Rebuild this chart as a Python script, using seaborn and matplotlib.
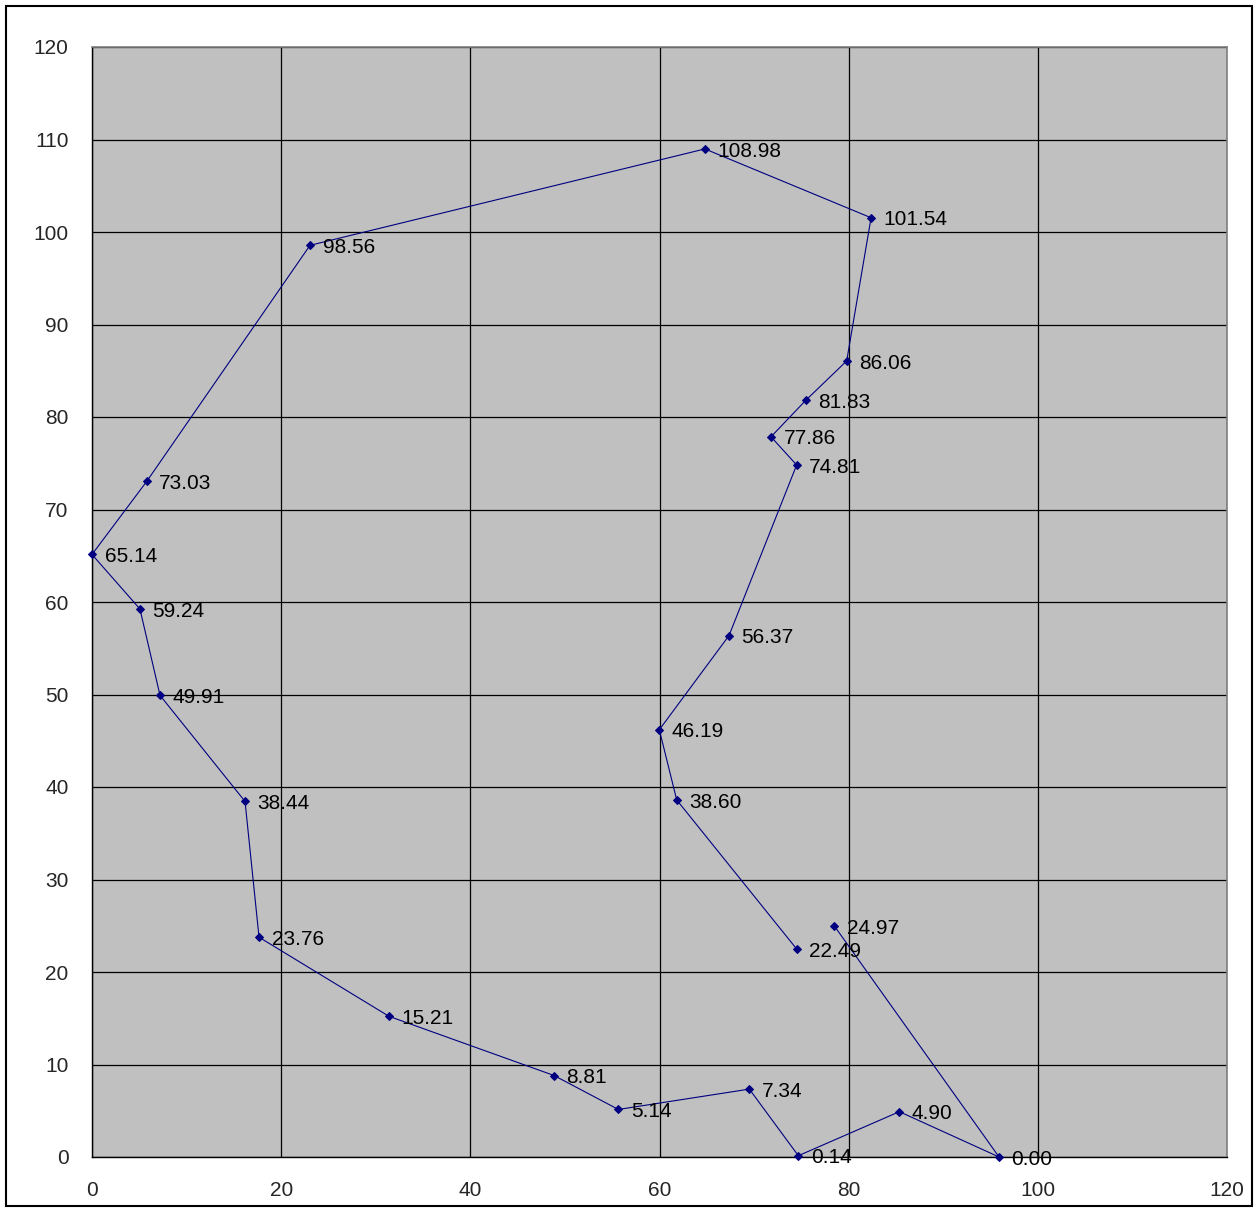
import matplotlib
matplotlib.use("Agg")
import matplotlib.pyplot as plt
import seaborn as sns
import pandas as pd
from matplotlib.patches import Rectangle

# Data (path order)
x_vals = [78.49, 95.9, 85.36, 74.68, 69.5, 55.65, 48.85, 31.4, 17.66, 16.18,
          7.19, 5.07, 0.0, 5.78, 23.05, 64.8, 82.37, 79.79, 75.49, 71.79,
          74.5, 67.35, 59.98, 61.82, 74.5]
y_vals = [24.97, 0.00, 4.90, 0.14, 7.34, 5.14, 8.81, 15.21, 23.76, 38.44,
          49.91, 59.24, 65.14, 73.03, 98.56, 108.98, 101.54, 86.06, 81.83, 77.86,
          74.81, 56.37, 46.19, 38.60, 22.49]
x_ticks = [0, 20, 40, 60, 80, 100, 120]
y_ticks = [0, 10, 20, 30, 40, 50, 60, 70, 80, 90, 100, 110, 120]

df = pd.DataFrame({"x": x_vals, "y": y_vals, "order": range(len(x_vals))})

sns.set_style("white")
plt.rcParams['font.family'] = ['Liberation Sans', 'DejaVu Sans']

fig = plt.figure(figsize=(12.59, 12.12), dpi=100)
ax = fig.add_axes([92/1259, 55/1212, (1227-92)/1259, (1157-47)/1212])
ax.set_facecolor("#C0C0C0")

navy = "#000080"
sns.lineplot(data=df, x="x", y="y", sort=False, estimator=None, ax=ax,
             color=navy, linewidth=0.8, marker="D", markersize=4.5,
             markeredgecolor=navy, markerfacecolor=navy, clip_on=False, zorder=3)

for xv, yv in zip(x_vals, y_vals):
    ax.annotate(f"{yv:.2f}", (xv, yv), xytext=(9, -1.5), textcoords="offset points",
                ha="left", va="center", fontsize=15, color="black", zorder=4)

ax.set_xlim(0, 120)
ax.set_ylim(0, 120)
ax.set_xticks(x_ticks)
ax.set_yticks(y_ticks)
ax.set_xticklabels([str(t) for t in x_ticks], fontsize=15)
ax.set_yticklabels([str(t) for t in y_ticks], fontsize=15)
ax.tick_params(axis="both", length=0)
ax.tick_params(axis="x", pad=17)
ax.tick_params(axis="y", pad=17)
ax.grid(True, color="black", linewidth=0.9)
ax.set_axisbelow(True)
ax.set_xlabel("")
ax.set_ylabel("")
for side in ["top", "right"]:
    ax.spines[side].set_visible(True)
    ax.spines[side].set_color("#808080")
    ax.spines[side].set_linewidth(1.2)
for side in ["left", "bottom"]:
    ax.spines[side].set_visible(True)
    ax.spines[side].set_color("black")
    ax.spines[side].set_linewidth(1.0)
if ax.get_legend():
    ax.get_legend().remove()

# outer chart border
fig.patches.append(Rectangle((6/1259, 6/1212), (1252-6)/1259, (1206-6)/1212,
                             transform=fig.transFigure, fill=False,
                             edgecolor="black", linewidth=1.5))

fig.savefig("out.png", dpi=100, facecolor="white")
